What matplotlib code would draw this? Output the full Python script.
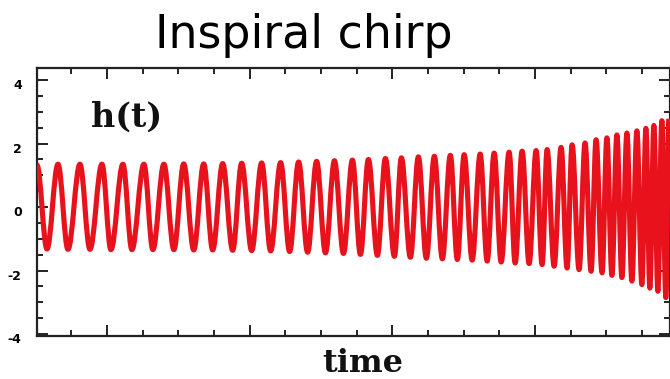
import matplotlib
matplotlib.use("Agg")
import matplotlib.pyplot as plt
from matplotlib.path import Path
from matplotlib.patches import PathPatch
from matplotlib.ticker import MultipleLocator
import matplotlib.transforms as mtransforms

plt.rcParams["axes.unicode_minus"] = False

# extrema of h(t) (time, strain)
t_ext = [0.510, 0.580, 0.657, 0.727, 0.811, 0.881, 0.965, 1.028, 1.112, 1.175,
         1.259, 1.322, 1.399, 1.469, 1.538, 1.608, 1.678, 1.741, 1.811, 1.881,
         1.944, 2.014, 2.084, 2.147, 2.217, 2.280, 2.343, 2.406, 2.469, 2.531,
         2.594, 2.657, 2.720, 2.776, 2.832, 2.895, 2.951, 3.014, 3.063, 3.126,
         3.182, 3.238, 3.294, 3.350, 3.406, 3.455, 3.503, 3.559, 3.615, 3.664,
         3.713, 3.762, 3.818, 3.860, 3.909, 3.958, 4.007, 4.049, 4.084, 4.133,
         4.182, 4.224, 4.259, 4.308, 4.350, 4.392, 4.427, 4.469, 4.503, 4.538,
         4.573, 4.608, 4.643, 4.678, 4.713, 4.748, 4.776, 4.804, 4.832, 4.860,
         4.888, 4.916, 4.937]
h_ext = [1.32, -1.32, 1.35, -1.33, 1.35, -1.33, 1.35, -1.34, 1.35, -1.34,
         1.35, -1.34, 1.35, -1.34, 1.36, -1.35, 1.36, -1.35, 1.37, -1.36,
         1.38, -1.37, 1.39, -1.38, 1.40, -1.40, 1.42, -1.42, 1.44, -1.44,
         1.46, -1.46, 1.48, -1.49, 1.50, -1.52, 1.53, -1.55, 1.55, -1.58,
         1.58, -1.61, 1.60, -1.63, 1.63, -1.65, 1.65, -1.67, 1.67, -1.70,
         1.70, -1.73, 1.73, -1.76, 1.76, -1.78, 1.78, -1.81, 1.81, -1.86,
         1.88, -1.92, 1.96, -1.97, 2.02, -2.02, 2.12, -2.07, 2.18, -2.15,
         2.27, -2.22, 2.33, -2.33, 2.40, -2.44, 2.48, -2.55, 2.57, -2.65,
         2.72, -2.85, 2.78]

y_ticks = [-4, -2, 0, 2, 4]

RED = "#e8121d"

fig = plt.figure(figsize=(6.7, 3.79), dpi=100)
ax = fig.add_axes([37 / 670, 1 - 336 / 379, 1 - 37 / 670, (336 - 68) / 379])

# smooth half-waves between successive extrema (cubic Bezier, flat tangents)
k = 0.364
verts = [(t_ext[0], h_ext[0])]
codes = [Path.MOVETO]
for i in range(1, len(t_ext)):
    t0, y0 = t_ext[i - 1], h_ext[i - 1]
    t1, y1 = t_ext[i], h_ext[i]
    dt = t1 - t0
    verts += [(t0 + k * dt, y0), (t1 - k * dt, y1), (t1, y1)]
    codes += [Path.CURVE4] * 3
wave = PathPatch(Path(verts, codes), facecolor="none", edgecolor=RED,
                 linewidth=3.7, joinstyle="round", capstyle="butt",
                 transform=ax.transData, zorder=3)
ax.add_patch(wave)

ax.set_xlim(0.51, 4.945)
ax.set_ylim(-4.06, 4.38)

ax.xaxis.set_major_locator(MultipleLocator(1))
ax.xaxis.set_minor_locator(MultipleLocator(0.25))
ax.yaxis.set_major_locator(MultipleLocator(2))
ax.yaxis.set_minor_locator(MultipleLocator(0.5))
ax.set_yticks(y_ticks)
ax.set_yticklabels([str(v) for v in y_ticks], fontsize=9, fontweight="bold")
ax.set_xticklabels([])
ax.tick_params(which="both", direction="in", top=True, right=True,
               width=1.4, color="#222222")
ax.tick_params(which="major", length=8)
ax.tick_params(which="minor", length=4.5)
ax.tick_params(axis="y", which="major", pad=11)
ax.tick_params(axis="x", labelbottom=False)
for lab in ax.get_yticklabels():
    lab.set_transform(lab.get_transform() +
                      mtransforms.ScaledTranslation(0, -4 / 100, fig.dpi_scale_trans))
for s in ax.spines.values():
    s.set_linewidth(1.6)
    s.set_color("#222222")

ax.text(0.086, 0.817, "h(t)", transform=ax.transAxes, ha="left", va="center",
        fontsize=24, fontweight="bold", family="DejaVu Serif", color="#111111")

fig.text(0.454, 1 - 48 / 379, "Inspiral chirp", ha="center", va="baseline",
         fontsize=33, family="DejaVu Sans", color="black")
fig.text(363 / 670, 1 - 372 / 379, "time", ha="center", va="baseline",
         fontsize=23, fontweight="bold", family="DejaVu Serif", color="#111111")

fig.savefig("out.png", dpi=100, facecolor="white")
